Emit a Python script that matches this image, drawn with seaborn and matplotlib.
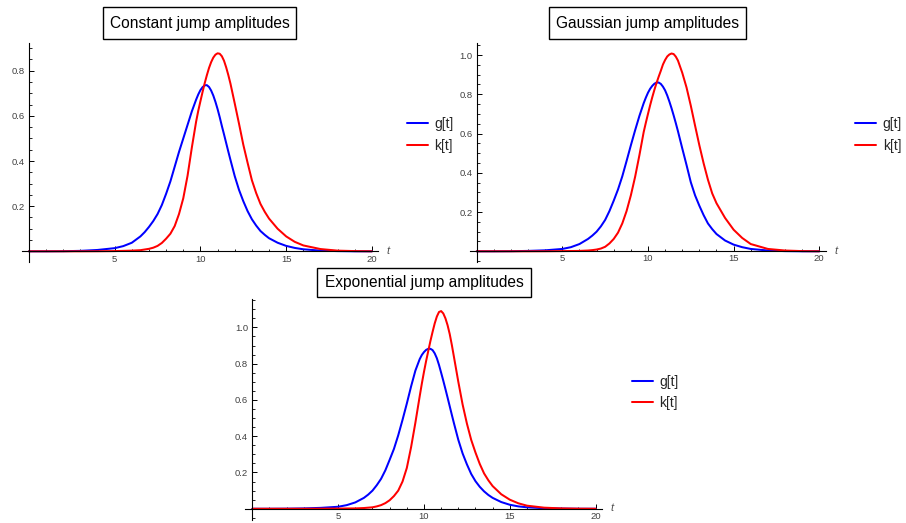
import numpy as np
import pandas as pd
import matplotlib
matplotlib.use("Agg")
import matplotlib.pyplot as plt
import matplotlib.patches as mpatches
import seaborn as sns
from matplotlib.ticker import FixedLocator, MultipleLocator, FormatStrFormatter

# ---------------- data ----------------
t = [0, 1, 2, 3, 4, 5, 5.5, 6, 6.5, 6.75,
     7, 7.25, 7.5, 7.75, 8, 8.25, 8.5, 8.75, 9, 9.25,
     9.5, 9.75, 9.875, 10, 10.125, 10.25, 10.375, 10.5, 10.625, 10.75,
     10.875, 11, 11.125, 11.25, 11.375, 11.5, 11.625, 11.75, 12, 12.25,
     12.5, 12.75, 13, 13.25, 13.5, 13.75, 14, 14.5, 15, 15.5,
     16, 17, 18, 19, 20]

g_const = [0, 0, 0.0005, 0.002, 0.006, 0.014, 0.023, 0.038, 0.066, 0.085,
           0.108, 0.134, 0.165, 0.205, 0.255, 0.31, 0.375, 0.44, 0.50, 0.56,
           0.62, 0.672, 0.695, 0.714, 0.727, 0.735, 0.736, 0.728, 0.712, 0.69,
           0.662, 0.63, 0.594, 0.555, 0.518, 0.48, 0.442, 0.405, 0.333, 0.272,
           0.222, 0.178, 0.142, 0.114, 0.09, 0.073, 0.058, 0.038, 0.024, 0.015,
           0.009, 0.003, 0.001, 0, 0]
k_const = [0, 0, 0, 0, 0.0003, 0.001, 0.002, 0.003, 0.005, 0.008,
           0.011, 0.016, 0.024, 0.037, 0.056, 0.078, 0.112, 0.165, 0.235, 0.335,
           0.46, 0.575, 0.623, 0.665, 0.706, 0.745, 0.78, 0.812, 0.838, 0.858,
           0.871, 0.877, 0.875, 0.864, 0.844, 0.815, 0.781, 0.743, 0.655, 0.565,
           0.472, 0.392, 0.315, 0.258, 0.21, 0.175, 0.145, 0.10, 0.066, 0.042,
           0.026, 0.01, 0.003, 0.001, 0]

g_gauss = [0, 0, 0.0005, 0.002, 0.005, 0.012, 0.021, 0.037, 0.063, 0.08,
           0.10, 0.127, 0.16, 0.205, 0.258, 0.315, 0.382, 0.46, 0.54, 0.617,
           0.69, 0.755, 0.783, 0.808, 0.828, 0.843, 0.854, 0.86, 0.86, 0.853,
           0.839, 0.82, 0.794, 0.763, 0.729, 0.692, 0.653, 0.612, 0.525, 0.44,
           0.352, 0.285, 0.232, 0.184, 0.142, 0.113, 0.088, 0.055, 0.034, 0.021,
           0.012, 0.004, 0.001, 0, 0]
k_gauss = [0, 0, 0, 0, 0.0003, 0.001, 0.0015, 0.002, 0.004, 0.006,
           0.009, 0.014, 0.023, 0.04, 0.063, 0.095, 0.142, 0.205, 0.285, 0.38,
           0.49, 0.608, 0.655, 0.70, 0.744, 0.785, 0.823, 0.858, 0.89, 0.92,
           0.952, 0.975, 0.993, 1.003, 1.008, 1.005, 0.992, 0.972, 0.91, 0.835,
           0.742, 0.64, 0.54, 0.448, 0.365, 0.295, 0.245, 0.17, 0.11, 0.068,
           0.037, 0.012, 0.004, 0.001, 0]

g_expo = [0, 0, 0.0005, 0.002, 0.005, 0.011, 0.02, 0.035, 0.06, 0.078,
          0.10, 0.13, 0.165, 0.212, 0.27, 0.33, 0.405, 0.49, 0.58, 0.675,
          0.762, 0.825, 0.848, 0.864, 0.876, 0.882, 0.882, 0.875, 0.857, 0.83,
          0.793, 0.75, 0.706, 0.66, 0.613, 0.565, 0.517, 0.47, 0.38, 0.305,
          0.245, 0.192, 0.152, 0.121, 0.096, 0.076, 0.06, 0.037, 0.022, 0.013,
          0.008, 0.003, 0.001, 0, 0]
k_expo = [0, 0, 0, 0, 0.0003, 0.001, 0.0015, 0.002, 0.004, 0.006,
          0.008, 0.013, 0.02, 0.031, 0.047, 0.07, 0.10, 0.15, 0.225, 0.34,
          0.475, 0.62, 0.69, 0.755, 0.815, 0.87, 0.925, 0.975, 1.022, 1.06,
          1.085, 1.09, 1.077, 1.05, 1.012, 0.963, 0.902, 0.835, 0.70, 0.575,
          0.47, 0.38, 0.31, 0.247, 0.195, 0.157, 0.125, 0.08, 0.05, 0.03,
          0.017, 0.006, 0.002, 0.0005, 0]

titles = ["Constant jump amplitudes", "Gaussian jump amplitudes",
          "Exponential jump amplitudes"]
series_labels = ["g[t]", "k[t]"]
x_major = [5, 10, 15, 20]
y_major_12 = [0.2, 0.4, 0.6, 0.8]
y_major_23 = [0.2, 0.4, 0.6, 0.8, 1.0]

# ---------------- styling ----------------
sns.set_style("white")
plt.rcParams["font.family"] = ["Liberation Sans", "DejaVu Sans"]

W, H = 906, 523
fig = plt.figure(figsize=(W / 100, H / 100), dpi=100)

def px_axes(left, top, right, bottom):
    return fig.add_axes([left / W, 1 - bottom / H, (right - left) / W, (bottom - top) / H])

panels = [
    dict(g=g_const, k=k_const, title=titles[0], ax=(21.7, 42.7, 378.3, 261.7),
         ylim=(-0.046, 0.924), yt=y_major_12, leg=(406.7, 134.9),
         box=(103.3, 7.3, 296.0, 39.3)),
    dict(g=g_gauss, k=k_gauss, title=titles[1], ax=(469.5, 42.7, 825.6, 261.7),
         ylim=(-0.053, 1.063), yt=y_major_23, leg=(855.0, 134.9),
         box=(549.3, 7.3, 746.0, 39.3)),
    dict(g=g_expo, k=k_expo, title=titles[2], ax=(245.1, 299.3, 602.0, 520.0),
         ylim=(-0.062, 1.155), yt=y_major_23, leg=(631.7, 392.5),
         box=(317.3, 268.3, 530.7, 297.3)),
]

palette = {"g[t]": (0, 0, 1), "k[t]": (1, 0, 0)}

for p in panels:
    ax = px_axes(*p["ax"])
    df = pd.DataFrame({
        "t": t * 2,
        "value": list(p["g"]) + list(p["k"]),
        "series": [series_labels[0]] * len(t) + [series_labels[1]] * len(t),
    })
    sns.lineplot(data=df, x="t", y="value", hue="series", palette=palette,
                 estimator=None, sort=True, linewidth=1.45, legend=False, ax=ax)
    ax.set_xlim(-0.42, 20.37)
    ax.set_ylim(*p["ylim"])
    ax.set_xlabel("")
    ax.set_ylabel("")
    ax.set_facecolor("none")
    for s in ["top", "right"]:
        ax.spines[s].set_visible(False)
    ax.spines["left"].set_position(("data", 0))
    ax.spines["bottom"].set_position(("data", 0))
    for s in ["left", "bottom"]:
        ax.spines[s].set_linewidth(0.8)
        ax.spines[s].set_color("black")
    ax.xaxis.set_major_locator(FixedLocator(x_major))
    ax.xaxis.set_minor_locator(MultipleLocator(1))
    ax.yaxis.set_major_locator(FixedLocator(p["yt"]))
    ax.yaxis.set_minor_locator(MultipleLocator(0.05))
    ax.xaxis.set_major_formatter(FormatStrFormatter("%d"))
    ax.yaxis.set_major_formatter(FormatStrFormatter("%.1f"))
    ax.tick_params(which="major", direction="in", length=3.4, width=0.7,
                   color="black", labelsize=6.8, labelcolor="#404040")
    ax.tick_params(which="minor", direction="in", length=1.8, width=0.6, color="black")
    ax.tick_params(axis="x", which="major", pad=2.3)
    ax.tick_params(axis="y", which="major", pad=3.0)
    ax.tick_params(axis="x", which="both", bottom=True, top=False)
    ax.tick_params(axis="y", which="both", left=True, right=False)

    # axis label "t"
    ax.text(1.028, 0.003, "t", transform=ax.get_yaxis_transform(), ha="center",
            va="center", fontsize=8, style="italic", color="#505050")

    # legend
    lx, ly = p["leg"]
    ax.legend(ax.lines[:2], series_labels, loc="center left",
              bbox_to_anchor=(lx / W, 1 - ly / H), bbox_transform=fig.transFigure,
              frameon=False, fontsize=10, handlelength=1.5, handletextpad=0.5,
              labelspacing=0.55, borderpad=0, borderaxespad=0)

    # boxed title
    bl, bt, br, bb = p["box"]
    rect = mpatches.Rectangle((bl / W, 1 - bb / H), (br - bl) / W, (bb - bt) / H,
                              transform=fig.transFigure, facecolor="white",
                              edgecolor="black", linewidth=1.0, zorder=5)
    fig.patches.append(rect)
    fig.text((bl + br) / 2 / W, 1 - (bt + bb) / 2 / H, p["title"], ha="center",
             va="center", fontsize=11.2, color="black", zorder=6)

fig.savefig("out.png", dpi=100)
